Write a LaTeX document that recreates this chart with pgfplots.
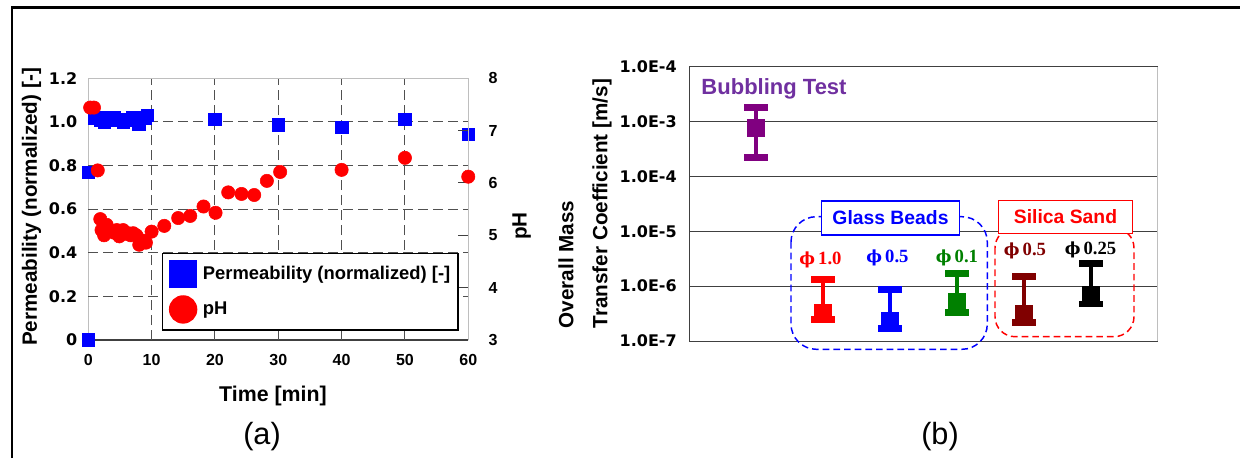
\documentclass[border=0pt]{standalone}
\usepackage{fontspec}
\setmainfont{Liberation Sans}
\newfontfamily\dejavu{DejaVu Sans}
\newfontfamily\dvserif{DejaVu Serif}
\newfontfamily\serifb{Liberation Serif}
\usepackage{pgfplots}
\pgfplotsset{compat=1.18}
\definecolor{gridgray}{RGB}{80,80,80}
\definecolor{boxgray}{RGB}{190,190,190}
\definecolor{axgray}{RGB}{64,64,64}
\definecolor{purp}{RGB}{128,0,128}
\definecolor{purptext}{RGB}{112,48,160}
\definecolor{dgreen}{RGB}{0,128,0}
\definecolor{dred}{RGB}{128,0,0}
\pgfplotsset{
  ebar/.style={line width=3pt, mark=-, mark size=8.75pt, mark options={line width=5pt, solid}},
  cmark/.style={only marks, mark=square*, mark size=6.2pt},
}
\newcommand{\phis}{{\dvserif\fontsize{12.5}{15}\selectfont\symbol{"03D5}}}
\begin{document}
\begin{tikzpicture}
\useasboundingbox (0,0) rectangle (930pt,343.5pt);
\draw[line width=1.75pt] (9pt,0pt) -- (9pt,337.9pt) -- (930pt,337.9pt);

% ---------- (a) permeability axis ----------
\begin{axis}[
  at={(66.2pt,88.5pt)}, anchor=south west,
  scale only axis, width=285pt, height=196.3pt,
  xmin=0, xmax=60, ymin=0, ymax=1.2,
  axis x line*=bottom, axis y line*=left,
  x axis line style={axgray, line width=0.9pt},
  y axis line style={boxgray, line width=0.75pt},
  xtick={0,10,20,30,40,50,60}, xticklabels={0,10,20,30,40,50,60},
  ytick={0,0.2,0.4,0.6,0.8,1,1.2}, yticklabels={0,0.2,0.4,0.6,0.8,1.0,1.2},
  tick align=inside, major tick length=7.5pt,
  x tick style={axgray, line width=0.75pt}, y tick style={draw=none},
  extra x ticks={10,20,30,40,50}, extra x tick labels={},
  extra x tick style={grid=major, major tick length=0pt},
  extra y ticks={0.2,0.4,0.6,0.8,1.0}, extra y tick labels={},
  extra y tick style={grid=major, major tick length=0pt},
  major grid style={gridgray, line width=0.75pt, dash pattern=on 7.5pt off 3.75pt},
  xticklabel style={font=\fontsize{12}{14}\selectfont\bfseries, anchor=north, inner sep=0pt, yshift=-10.5pt},
  yticklabel style={font=\dejavu\bfseries\fontsize{12}{14}\selectfont, anchor=east, inner sep=0pt, xshift=-8pt},
  xlabel={Time [min]}, ylabel={Permeability (normalized) [-]},
  xlabel style={at={(axis description cs:0.486,-0.215)}, anchor=center, font=\fontsize{16}{19}\selectfont\bfseries},
  ylabel style={at={(axis description cs:-0.149,0.508)}, anchor=center, font=\fontsize{15.5}{18}\selectfont\bfseries},
  clip=false,
]
\addplot[only marks, mark=square*, mark size=4.7pt, blue, mark options={draw=none, fill=blue}] table[x=t, y=perm] {
t perm
0 0
0 0.77
1 1.02
1.5 1.02
2 1.01
2.5 1.00
3 1.02
3.5 1.01
4 1.02
5 1.01
5.5 1.00
6 1.01
7 1.02
7.5 1.01
8 0.99
9 1.02
9.3 1.03
20 1.011
30 0.988
40 0.976
50 1.011
60 0.943
};
\end{axis}

% ---------- (a) pH axis ----------
\begin{axis}[
  at={(66.2pt,88.5pt)}, anchor=south west,
  scale only axis, width=285pt, height=196.3pt,
  xmin=0, xmax=60, ymin=3, ymax=8,
  axis x line*=top, axis y line*=right,
  axis line style={boxgray, line width=0.75pt},
  xtick=\empty,
  ytick={3,4,5,6,7,8}, yticklabels={3,4,5,6,7,8},
  tick align=inside, major tick length=7.5pt,
  y tick style={axgray, line width=0.75pt},
  ticklabel style={font=\fontsize{12}{14}\selectfont\bfseries},
  yticklabel style={anchor=west, inner sep=0pt, xshift=15pt},
  ylabel={pH},
  ylabel style={at={(axis description cs:1.1405,0.4356)}, anchor=center, font=\fontsize{15.5}{18}\selectfont\bfseries},
  clip=false,
  legend style={at={(0.193,0.334)}, anchor=north west, draw=black, line width=1.3pt,
    inner sep=5.5pt, row sep=7pt, column sep=4.85pt,
    font=\fontsize{13.8}{16}\selectfont\bfseries, nodes={inner sep=0pt}},
  legend cell align=left,
]
\addlegendimage{only marks, mark=square*, mark size=9.75pt, blue, mark options={draw=none, fill=blue}}
\addlegendentry{Permeability (normalized) [-]}
\addplot[only marks, mark=*, mark size=5pt, red, mark options={draw=none, fill=red}, forget plot] table[x=t, y=ph] {
t ph
0.3 7.44
0.9 7.44
1.5 6.24
1.9 5.31
2.1 5.10
2.5 5.00
2.9 5.20
3.3 5.08
3.7 5.07
4.1 5.05
4.5 5.10
4.9 4.98
5.2 5.06
5.5 5.10
5.9 5.03
6.3 5.04
6.7 5.00
7.1 5.04
7.6 5.00
8.05 4.82
8.6 4.90
9.1 4.86
10.0 5.07
12.0 5.18
14.2 5.33
16.1 5.37
18.2 5.55
20.1 5.43
22.1 5.82
24.2 5.79
26.2 5.77
28.2 6.04
30.3 6.21
40 6.25
50 6.48
60 6.12
};
\addlegendimage{only marks, mark=*, mark size=10pt, red, mark options={draw=none, fill=red}}
\addlegendentry{pH}
\end{axis}

% ---------- (b) ----------
\begin{axis}[
  at={(516.75pt,87.75pt)}, anchor=south west,
  scale only axis, width=351.75pt, height=205.7pt,
  ymode=log, ymin=1e-7, ymax=1e-2,
  xmin=0, xmax=7, xtick=\empty,
  ytick={1e-7,1e-6,1e-5,1e-4,1e-3,1e-2},
  yticklabels={1.0E-7,1.0E-6,1.0E-5,1.0E-4,1.0E-3,1.0E-4},
  yminorticks=false,
  axis x line*=bottom, axis y line*=left,
  axis line style={axgray, line width=0.75pt},
  ymajorgrids, major grid style={axgray, line width=0.75pt},
  major tick length=0pt,
  ticklabel style={font=\dejavu\bfseries\fontsize{12}{14}\selectfont},
  yticklabel style={anchor=east, inner sep=0pt, xshift=-9pt},
  ylabel={Overall Mass\\Transfer Coefficient [m/s]},
  ylabel style={at={(axis description cs:-0.2217,0.501)}, anchor=center, align=left, font=\fontsize{15.5}{25.5}\selectfont\bfseries},
  clip=false,
]
\addplot[purp, ebar] coordinates {(1,2.23e-4) (1,1.79e-3)};
\addplot[purp, cmark] coordinates {(1,7.64e-4)};
\addplot[red, ebar] coordinates {(2,2.49e-7) (2,1.33e-6)};
\addplot[red, cmark] coordinates {(2,3.3e-7)};
\addplot[blue, ebar] coordinates {(3,1.70e-7) (3,8.6e-7)};
\addplot[blue, cmark] coordinates {(3,2.33e-7)};
\addplot[dgreen, ebar] coordinates {(4,3.35e-7) (4,1.71e-6)};
\addplot[dgreen, cmark] coordinates {(4,5.14e-7)};
\addplot[dred, ebar] coordinates {(5,2.2e-7) (5,1.49e-6)};
\addplot[dred, cmark] coordinates {(5,3.23e-7)};
\addplot[black, ebar] coordinates {(6,4.72e-7) (6,2.61e-6)};
\addplot[black, cmark] coordinates {(6,6.9e-7)};
\draw[boxgray, line width=0.75pt] (rel axis cs:1,0) -- (rel axis cs:1,1);
\end{axis}

% ---------- annotations (pixel coordinates) ----------
\begin{scope}[x=0.75pt, y=-0.75pt, yshift=343.5pt]
\node[font=\fontsize{23}{26}\selectfont] at (262,437) {(a)};
\node[font=\fontsize{23}{26}\selectfont] at (940,437) {(b)};
\node[text=purptext, font=\fontsize{16.5}{19}\selectfont\bfseries] at (774,89) {Bubbling Test};
\draw[blue, line width=1.1pt, dash pattern=on 5pt off 3pt, rounded corners=19pt] (791,216.7) rectangle (987.3,349.3);
\draw[red, line width=1.1pt, dash pattern=on 5pt off 3pt, rounded corners=15pt] (995,228) rectangle (1134,336.7);
\node[draw=blue, fill=white, line width=0.8pt, text=blue, font=\fontsize{14.5}{17}\selectfont\bfseries, minimum width=103.5pt, minimum height=25.5pt, inner sep=0pt] at (890.5,218) {Glass Beads};
\node[draw=red, fill=white, line width=0.8pt, text=red, font=\fontsize{14.5}{17}\selectfont\bfseries, minimum width=100.2pt, minimum height=25pt, inner sep=0pt] at (1065.5,216.7) {Silica Sand};
\node[text=red, font=\serifb\bfseries\fontsize{14}{16}\selectfont] at (820.5,260) {\phis\,1.0};
\node[text=blue, font=\serifb\bfseries\fontsize{14}{16}\selectfont] at (887.5,258) {\phis\,0.5};
\node[text=dgreen, font=\serifb\bfseries\fontsize{14}{16}\selectfont] at (957,258) {\phis\,0.1};
\node[text=dred, font=\serifb\bfseries\fontsize{14}{16}\selectfont] at (1025,250.5) {\phis\,0.5};
\node[text=black, font=\serifb\bfseries\fontsize{14}{16}\selectfont] at (1090.5,250) {\phis\,0.25};
\end{scope}
\end{tikzpicture}
\end{document}
